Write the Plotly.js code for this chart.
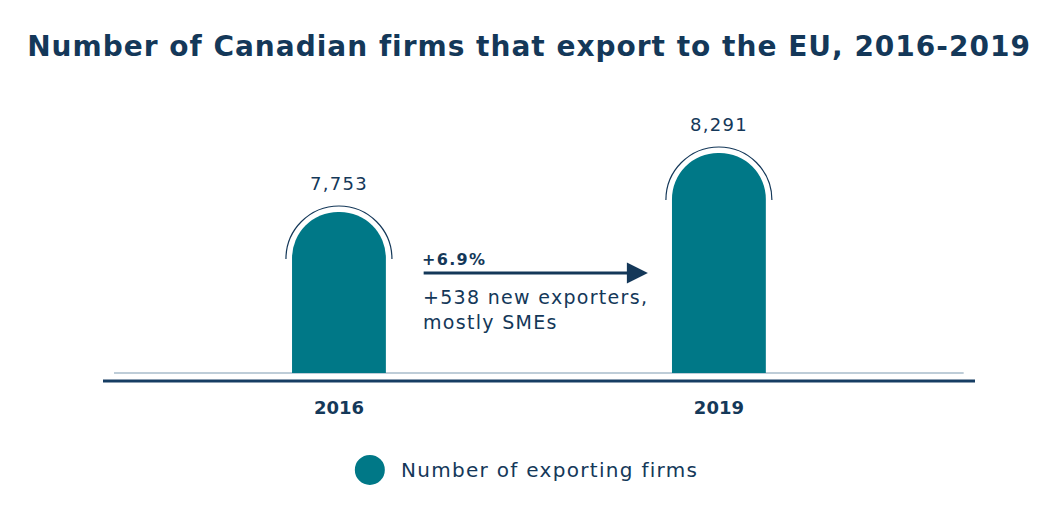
<!DOCTYPE html>
<html>
<head>
<meta charset="utf-8">
<script src="https://cdn.plot.ly/plotly-3.0.1.min.js"></script>
<style>
html,body{margin:0;padding:0;background:#fff;}
#chart{width:1058px;height:519px;}
.gtitle{letter-spacing:1px;}
.annotation-text{letter-spacing:1.3px;}
</style>
</head>
<body>
<div id="chart"></div>
<script>
const years = ['2016', '2019'];
const firms = [7753, 8291];
const valueLabels = ['7,753', '8,291'];
const seriesName = 'Number of exporting firms';
const changeLabel = '+6.9%';
const changeNote = '+538 new exporters,<br>mostly SMEs';

const NAVY = '#143859';
const TEAL = '#007887';
const FONT = 'DejaVu Sans, sans-serif';

const k = 0.5523 * 53;
const arcPath = `M -53,-47 C -53,${-47 + k} ${-k},6 0,6 C ${k},6 53,${-47 + k} 53,-47`;

const shapes = [
  {type: 'line', xref: 'paper', yref: 'paper', x0: 0.0126, x1: 0.987, y0: 0, y1: 0,
   line: {color: '#a9bccb', width: 1.5}, layer: 'below'},
  {type: 'line', xref: 'paper', yref: 'paper', ysizemode: 'pixel', yanchor: 0,
   x0: 0, x1: 1, y0: -8, y1: -8, line: {color: '#163d63', width: 3}},
  {type: 'circle', xref: 'paper', yref: 'paper', xsizemode: 'pixel', ysizemode: 'pixel',
   xanchor: 0.306, yanchor: -0.355, x0: -15, x1: 15, y0: -15, y1: 15,
   fillcolor: TEAL, line: {width: 0}}
];
years.forEach((yr, i) => {
  shapes.push({type: 'path', xref: 'x', yref: 'y', xsizemode: 'pixel', ysizemode: 'pixel',
    xanchor: i, yanchor: firms[i], path: arcPath, line: {color: NAVY, width: 1.2}});
});

const annotations = years.map((yr, i) => ({
  x: i, y: firms[i], xref: 'x', yref: 'y', text: valueLabels[i], showarrow: false,
  yanchor: 'bottom', yshift: 16, font: {family: FONT, size: 18, color: NAVY}
}));
annotations.push(
  {x: 0.813, y: 7197, ax: 0.219, ay: 7197, xref: 'x', yref: 'y', axref: 'x', ayref: 'y',
   text: '', showarrow: true, arrowhead: 2, arrowsize: 1.4, arrowwidth: 3, arrowcolor: NAVY},
  {x: 0.221, y: 7197, xref: 'x', yref: 'y', text: changeLabel, showarrow: false, align: 'left',
   xanchor: 'left', yanchor: 'bottom', yshift: 2, xshift: -3,
   font: {family: FONT, size: 16, color: NAVY, weight: 'bold'}},
  {x: 0.221, y: 7197, xref: 'x', yref: 'y', text: changeNote, showarrow: false, align: 'left',
   xanchor: 'left', yanchor: 'top', yshift: -11, xshift: -2,
   font: {family: FONT, size: 19, color: NAVY}},
  {x: 0.343, y: -0.355, xref: 'paper', yref: 'paper', text: seriesName, showarrow: false,
   align: 'left', xanchor: 'left', yanchor: 'middle', xshift: -3,
   font: {family: FONT, size: 20, color: NAVY}}
);

const data = [{
  type: 'bar', x: years, y: firms, name: seriesName, width: 0.247,
  marker: {color: TEAL, cornerradius: '50%'}, hoverinfo: 'x+y', showlegend: false
}];

const layout = {
  width: 1058, height: 519,
  margin: {l: 103, r: 83, t: 100, b: 146},
  paper_bgcolor: '#ffffff', plot_bgcolor: '#ffffff',
  title: {text: 'Number of Canadian firms that export to the EU, 2016-2019',
    x: 0.5, xanchor: 'center', y: 0.911, yanchor: 'middle', yref: 'container',
    font: {family: FONT, size: 28, color: NAVY, weight: 'bold'}},
  xaxis: {type: 'category', range: [-0.621, 1.674], showgrid: false, zeroline: false,
    showline: false, ticks: '', ticklabelstandoff: 22,
    tickfont: {family: FONT, size: 18, color: NAVY, weight: 'bold'}},
  yaxis: {range: [6285, 8774], visible: false, showgrid: false, zeroline: false},
  shapes: shapes, annotations: annotations, showlegend: false
};

Plotly.newPlot('chart', data, layout, {displayModeBar: false, staticPlot: true});
</script>
</body>
</html>
